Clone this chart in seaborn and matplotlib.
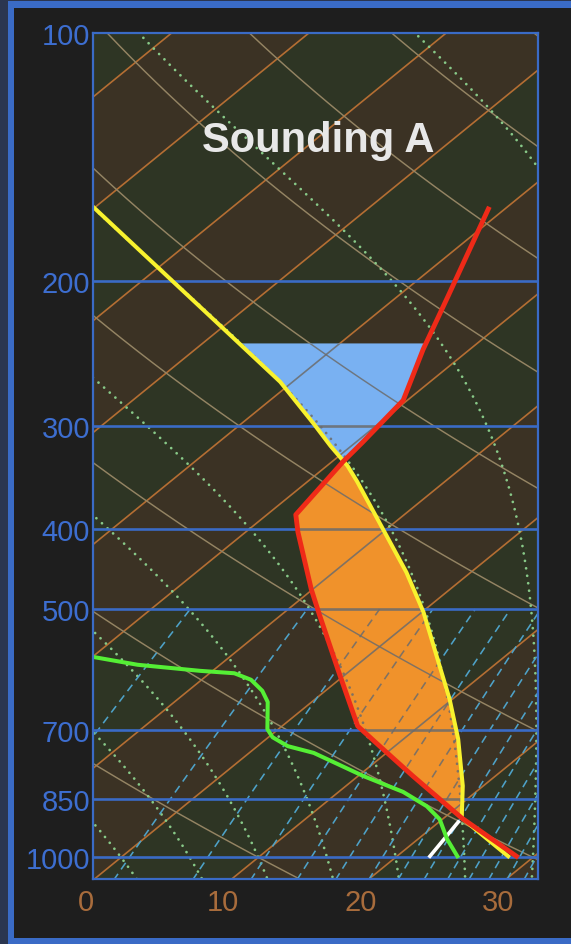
import numpy as np
import matplotlib
matplotlib.use("Agg")
import matplotlib.pyplot as plt
import matplotlib.transforms as mtransforms
from matplotlib.patches import Rectangle, Polygon
from matplotlib.ticker import NullLocator
from matplotlib import font_manager
import seaborn as sns

# ---------------- Sounding A (pressure hPa, temperature degC) ----------------
temp_p = [997, 896, 797, 733, 693, 596, 507, 473, 403, 384, 331, 314, 279, 242, 209, 163.5]
temp_t = [28.7, 21.3, 14.0, 8.9, 5.5, -0.7, -7.3, -10.1, -16.2, -17.9, -19.2, -19.5,
          -20.3, -23.4, -26.3, -31.2]

parcel_p = [997, 896, 819, 719, 643, 570, 504, 451, 396, 350, 335, 317, 298, 265, 233, 163]
parcel_t = [28.1, 21.3, 18.5, 14.0, 9.8, 5.0, 0.1, -4.7, -10.7, -16.4, -18.5, -21.5,
            -24.7, -30.9, -38.6, -60.0]

dew_p = [571.5, 584, 594, 598, 609, 628, 648, 699, 715, 733, 747, 797, 833, 867, 899, 950, 997]
dew_t = [-19.9, -16.0, -10.9, -8.2, -6.4, -4.6, -3.2, -0.8, 0.3, 2.2, 4.7, 10.4, 14.7,
         17.7, 19.8, 22.1, 24.4]

# surface mixing-ratio segment up toward the lifting condensation level
mixline_p = [997, 906]
mixline_t = [22.4, 21.4]

lcl_p = 896.0
neg_area_top_p = 238.0

# ---------------- diagram furniture ----------------
pressure_levels = [100, 200, 300, 400, 500, 700, 850, 1000]
pressure_labels = ["100", "200", "300", "400", "500", "700", "850", "1000"]
temp_ticks = [0, 10, 20, 30]
temp_labels = ["0", "10", "20", "30"]
isotherm_t = list(range(-140, 61, 10))
dry_theta_c = list(range(10, 211, 20))
moist_thetaw_c = [0, 5, 10, 15, 20, 25, 30, 35]
mixing_ratio_gkg = [2, 4, 6, 8, 10, 12, 14, 16, 18, 20, 22, 24, 26, 28]

SKEW = 32.0
P_REF = 1083.0
P_BOTTOM, P_TOP = 1062.4, 100.0
X_LEFT, X_RIGHT = 0.51, 32.92

BLUE = "#3a6bc6"
BAND_GREEN = "#2e3524"
BAND_BROWN = "#3b3224"
ISO_C = "#b46e33"
DRY_C = "#948463"
MOIST_C = "#88c988"
MIX_C = "#4ea2c8"
OVER_C = "#6c6c6c"


def skew_x(t, p):
    return np.asarray(t, float) + SKEW * np.log(P_REF / np.asarray(p, float))


RD, CP, LV, EPS = 287.04, 1005.7, 2.501e6, 0.622


def _moist_rate(p, tk):
    es = 6.112 * np.exp(17.67 * (tk - 273.15) / (tk - 29.65))
    rs = EPS * es / (p - es)
    return (RD * tk + LV * rs) / (CP + LV * LV * rs * EPS / (RD * tk * tk)) / p


def _rk4(p0, p1, tk, n):
    h = (p1 - p0) / n
    p = p0
    for _ in range(n):
        k1 = _moist_rate(p, tk)
        k2 = _moist_rate(p + h / 2, tk + h * k1 / 2)
        k3 = _moist_rate(p + h / 2, tk + h * k2 / 2)
        k4 = _moist_rate(p + h, tk + h * k3)
        tk = tk + h * (k1 + 2 * k2 + 2 * k3 + k4) / 6
        p += h
    return tk


def pseudo_adiabat(tw_c, pp):
    tk = _rk4(1000.0, pp[0], tw_c + 273.15, 20)
    out = [tk]
    for a, b in zip(pp[:-1], pp[1:]):
        tk = _rk4(a, b, tk, 4)
        out.append(tk)
    return np.array(out) - 273.15


def profile_x(p, prof_p, prof_t):
    return np.interp(-np.log(p), -np.log(np.asarray(prof_p, float)), skew_x(prof_t, prof_p))


available = {f.name for f in font_manager.fontManager.ttflist}
if "Liberation Sans Narrow" in available:
    label_font, label_size = "Liberation Sans Narrow", 25
else:
    label_font, label_size = "Liberation Sans", 21

# ---------------- figure & frame ----------------
W, H = 571, 945
fig = plt.figure(figsize=(W / 100, H / 100), dpi=100)
fig.patch.set_facecolor("#1e1e1e")


def frame_rect(x0, y0, x1, y1, color, z):
    fig.add_artist(Rectangle((x0 / W, 1 - y1 / H), (x1 - x0) / W, (y1 - y0) / H,
                             transform=fig.transFigure, facecolor=color,
                             edgecolor="none", zorder=z))


frame_rect(0, 0, W, H, "#2b3650", -10)
frame_rect(8, 2, W + 10, H + 10, BLUE, -9)
frame_rect(14, 9, W + 10, 939, "#1e1e1e", -8)

ax = fig.add_axes([93 / W, 1 - 880 / H, 445 / W, 846 / H])
ax.set_yscale("log")
ax.set_ylim(P_BOTTOM, P_TOP)
ax.set_xlim(X_LEFT, X_RIGHT)
ax.set_facecolor(BAND_GREEN)

# alternating 10-degree temperature bands
band_p = np.array([1150.0, 85.0])
for t0 in isotherm_t[:-1]:
    c = BAND_GREEN if (t0 // 10) % 2 == 0 else BAND_BROWN
    ax.fill_betweenx(band_p, skew_x(t0, band_p), skew_x(t0 + 10, band_p),
                     facecolor=c, edgecolor=c, lw=0.3, zorder=0)

# reference lines: isotherms, dry adiabats, moist adiabats, mixing ratios
grid = []
pp = np.geomspace(1100, 95, 220)
for t in isotherm_t:
    grid.append((skew_x(t, pp), pp, dict(lw=1.2, solid_capstyle="butt"), ISO_C))
for th in dry_theta_c:
    tk = (th + 273.15) * (pp / 1000.0) ** 0.2857 - 273.15
    grid.append((skew_x(tk, pp), pp, dict(lw=1.05), DRY_C))
for tw in moist_thetaw_c:
    tm = pseudo_adiabat(tw, pp)
    grid.append((skew_x(tm, pp), pp,
                 dict(lw=2.0, linestyle=(0, (0.01, 2.7)), dash_capstyle="round"), MOIST_C))
pw = np.geomspace(1100, 500, 60)
for w in mixing_ratio_gkg:
    e = pw * w / (622.0 + w)
    le = np.log(e / 6.112)
    td = 243.5 * le / (17.67 - le)
    grid.append((skew_x(td, pw), pw, dict(lw=1.15, linestyle=(0, (5.0, 3.4))), MIX_C))

for x, p, kw, c in grid:
    ax.plot(x, p, color=c, zorder=1, **kw)

isobars = []
for lev in pressure_levels[1:]:
    isobars.append((np.array([X_LEFT - 5, X_RIGHT + 5]), np.array([lev, lev]),
                    dict(lw=1.9), BLUE))
for x, p, kw, c in isobars:
    ax.plot(x, p, color=c, zorder=1.5, **kw)

# positive (orange) and negative (blue) areas between parcel and environment
pg = np.geomspace(lcl_p, neg_area_top_p, 900)
xr = profile_x(pg, temp_p, temp_t)
xy = profile_x(pg, parcel_p, parcel_t)
d = xy - xr
k = np.where(d[10:] <= 0)[0][0] + 10
f = d[k - 1] / (d[k - 1] - d[k])
p_el = np.exp(np.log(pg[k - 1]) + f * (np.log(pg[k]) - np.log(pg[k - 1])))
x_el = profile_x(p_el, temp_p, temp_t)

p_low = np.r_[pg[:k], p_el]
pos_x = np.r_[np.r_[xr[:k], x_el], np.r_[xy[:k], x_el][::-1]]
pos_p = np.r_[p_low, p_low[::-1]]
p_high = np.r_[p_el, pg[k:]]
neg_x = np.r_[np.r_[x_el, xy[k:]], np.r_[x_el, xr[k:]][::-1]]
neg_p = np.r_[p_high, p_high[::-1]]

for px, ppoly, col in [(pos_x, pos_p, "#f0922b"), (neg_x, neg_p, "#79b1f2")]:
    patch = Polygon(np.column_stack([px, ppoly]), closed=True, facecolor=col,
                    edgecolor="none", zorder=2)
    ax.add_patch(patch)
    for x, p, kw, c in grid + isobars:
        ln, = ax.plot(x, p, color=OVER_C, alpha=0.85, zorder=3, **kw)
        ln.set_clip_path(patch)

# sounding curves
sns.lineplot(x=skew_x(mixline_t, mixline_p), y=mixline_p, sort=False, estimator=None,
             color="white", linewidth=2.6, ax=ax, zorder=4)
sns.lineplot(x=skew_x(parcel_t, parcel_p), y=parcel_p, sort=False, estimator=None,
             color="#f8f22e", linewidth=2.9, ax=ax, zorder=5)
sns.lineplot(x=skew_x(dew_t, dew_p), y=dew_p, sort=False, estimator=None,
             color="#55ef35", linewidth=2.9, ax=ax, zorder=5)
sns.lineplot(x=skew_x(temp_t, temp_p), y=temp_p, sort=False, estimator=None,
             color="#ef2a18", linewidth=3.5, ax=ax, zorder=6)

ax.set_xlim(X_LEFT, X_RIGHT)
ax.set_ylim(P_BOTTOM, P_TOP)
ax.set_xlabel("")
ax.set_ylabel("")

# pressure axis
ax.set_yticks(pressure_levels)
ax.set_yticklabels(pressure_labels)
ax.yaxis.set_minor_locator(NullLocator())
ax.tick_params(axis="y", length=0, pad=2, labelcolor="#3d6ed0", labelsize=label_size)
for lbl in ax.get_yticklabels():
    lbl.set_fontfamily(label_font)

# temperature labels under the frame
ax.set_xticks([])
xlab_tr = mtransforms.blended_transform_factory(ax.transData, ax.transAxes)
for v, s in zip(temp_ticks, temp_labels):
    ax.text(v, -0.0272, s, transform=xlab_tr, ha="center", va="center",
            color="#a86c3c", fontsize=label_size, family=label_font, clip_on=False)

for s in ax.spines.values():
    s.set_color(BLUE)
    s.set_linewidth(1.6)
    s.set_zorder(10)

ax.text(0.5056, 0.8735, "Sounding A", transform=ax.transAxes, ha="center", va="center",
        fontsize=30, fontweight="bold", color="#e8e8e8", family="Liberation Sans", zorder=8)

fig.savefig("out.png", dpi=100, facecolor=fig.get_facecolor())
